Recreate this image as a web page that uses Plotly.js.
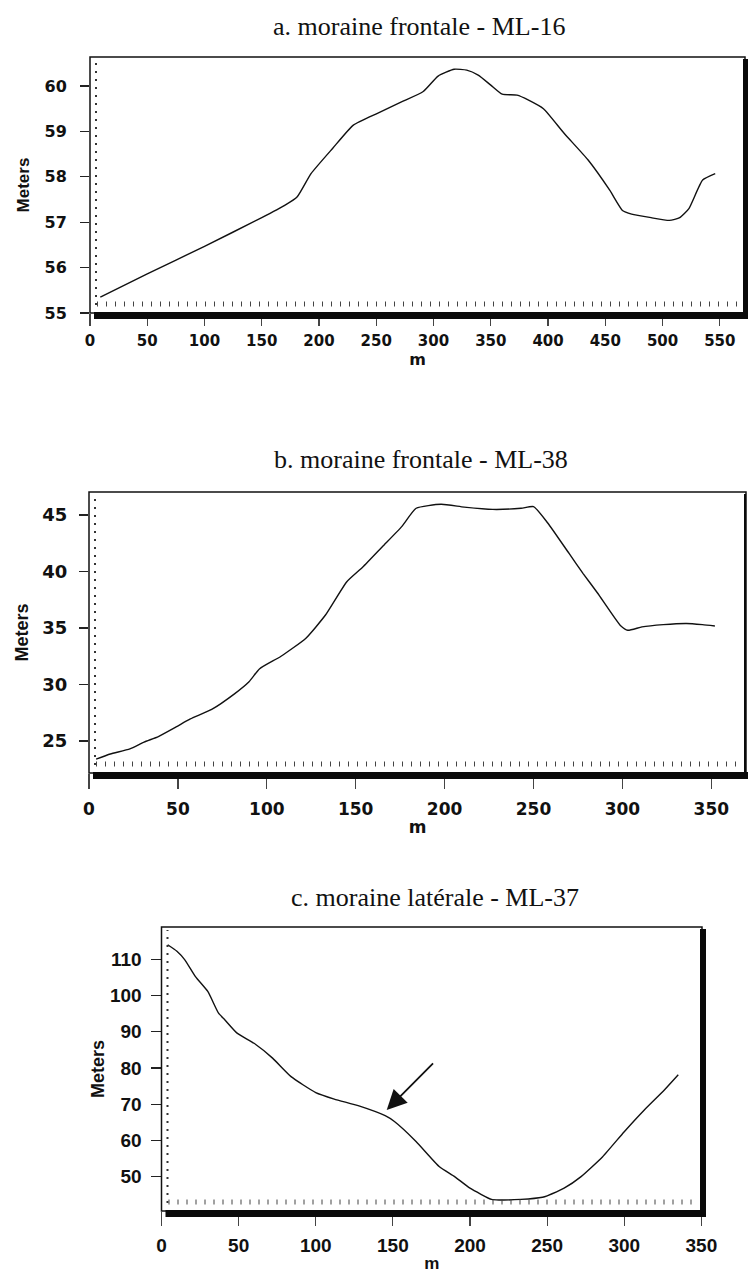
<!DOCTYPE html>
<html>
<head>
<meta charset="utf-8">
<script src="https://cdn.plot.ly/plotly-3.0.1.min.js"></script>
<style>html,body{margin:0;padding:0;background:#fff;}#chart{width:749px;height:1274px;}</style>
</head>
<body>
<div id="chart"></div>
<script>
// ---------- data ----------
const titleA = "a. moraine frontale - ML-16";
const titleB = "b. moraine frontale - ML-38";
const titleC = "c. moraine latérale - ML-37";
const yTitle = "Meters";
const xTitle = "m";

const distA = [9, 50, 100, 150, 170, 181, 193, 212, 230, 251, 272, 291, 304, 318, 329, 339, 350, 360, 373, 383, 396, 414, 435, 454, 465, 473, 490, 506, 515, 523, 535, 546];
const elevA = [55.35, 55.86, 56.47, 57.1, 57.37, 57.56, 58.07, 58.63, 59.14, 59.4, 59.65, 59.88, 60.22, 60.37, 60.35, 60.24, 60.02, 59.82, 59.8, 59.69, 59.5, 58.96, 58.37, 57.7, 57.26, 57.18, 57.1, 57.04, 57.1, 57.3, 57.93, 58.07];

const distB = [4, 12, 23, 31, 39, 49, 57, 69, 82, 90, 96, 108, 122, 133, 145, 154, 165, 176, 184, 198, 211, 227, 243, 250, 258, 270, 278, 286, 299, 303, 311, 323, 336, 345, 352];
const elevB = [23.4, 23.85, 24.3, 24.9, 25.4, 26.25, 26.95, 27.8, 29.2, 30.25, 31.4, 32.5, 34.1, 36.15, 39.1, 40.4, 42.2, 44.0, 45.6, 45.95, 45.7, 45.5, 45.6, 45.75, 44.3, 41.6, 39.8, 38.1, 35.2, 34.8, 35.1, 35.3, 35.4, 35.3, 35.18];

const distC = [4, 10, 15, 22, 30, 37, 41, 49, 60, 72, 84, 100, 112, 128, 145, 151, 165, 180, 190, 200, 214, 219, 233, 247, 250, 261, 272, 286, 300, 313, 326, 335];
const elevC = [114, 112.2, 109.9, 105.2, 101.1, 95.1, 93.3, 89.6, 86.8, 82.7, 77.6, 73.2, 71.4, 69.5, 66.8, 65.2, 59.7, 52.8, 50, 46.8, 43.7, 43.55, 43.7, 44.3, 44.7, 46.8, 50, 55.5, 62.4, 68.4, 73.9, 78.1];

// arrow in panel c: [tail distance, tail elevation, head distance, head elevation]
const arrowC = [177, 81.7, 146, 68.4];

// axis ranges / ticks
const xRangeA = [0, 572], yRangeA = [55, 60.64];
const xRangeB = [0, 369.5], yRangeB = [22.17, 47.04];
const xRangeC = [0, 350.4], yRangeC = [40.5, 118.9];
const xTickStep = 50;
const yTickA = 1, yTickB = 5, yTickC = 10;

// ---------- layout helpers (pixel -> paper) ----------
const W = 749, H = 1274;
const P = x => x / W;
const Q = y => 1 - y / H;

const serif = "Liberation Serif, Times New Roman, serif";
const sansWide = "DejaVu Sans, Verdana, sans-serif";
const sans = "Liberation Sans, Arial, sans-serif";

function frame(box, thickRightW) {
  const [l, t, r, b] = box;
  const s = [];
  s.push({type: 'rect', xref: 'paper', yref: 'paper', x0: P(l), x1: P(r), y0: Q(b), y1: Q(t),
          line: {color: '#111', width: 1.5}, fillcolor: 'rgba(0,0,0,0)'});
  s.push({type: 'rect', xref: 'paper', yref: 'paper', x0: P(l + 4), x1: P(r + 2), y0: Q(b + 6), y1: Q(b - 1),
          line: {width: 0}, fillcolor: '#0a0a0a'});
  s.push({type: 'rect', xref: 'paper', yref: 'paper', x0: P(r - 2), x1: P(r - 2 + thickRightW), y0: Q(b + 6), y1: Q(t + 2),
          line: {width: 0}, fillcolor: '#0a0a0a'});
  s.push({type: 'line', xref: 'paper', yref: 'paper', x0: P(l + 6), x1: P(l + 6), y0: Q(b - 8), y1: Q(t + 3),
          line: {color: '#333', width: 2, dash: '2px,6px'}});
  s.push({type: 'line', xref: 'paper', yref: 'paper', x0: P(l + 7), x1: P(r - 3), y0: Q(b - 9), y1: Q(b - 9),
          line: {color: '#444', width: 5, dash: '1px,8px'}});
  return s;
}

const boxA = [90, 57, 745, 313];
const boxB = [89, 492, 746, 773];
const boxC = [161.5, 927, 702, 1211];

const lineStyle = {color: '#111', width: 1.4, shape: 'spline', smoothing: 0.5};

const traces = [
  {x: distA, y: elevA, type: 'scatter', mode: 'lines', line: lineStyle, xaxis: 'x', yaxis: 'y', showlegend: false},
  {x: distB, y: elevB, type: 'scatter', mode: 'lines', line: lineStyle, xaxis: 'x2', yaxis: 'y2', showlegend: false},
  {x: distC, y: elevC, type: 'scatter', mode: 'lines', line: lineStyle, xaxis: 'x3', yaxis: 'y3', showlegend: false}
];

function xax(box, range, anchor, fs, fam, tlen, stand, titleFs, titleFam, titleStand) {
  return {
    domain: [P(box[0]), P(box[2])], range: range, anchor: anchor,
    tick0: 0, dtick: xTickStep, ticks: 'outside', ticklen: tlen, tickwidth: 1.2, tickcolor: '#444',
    ticklabelstandoff: stand,
    showgrid: false, zeroline: false, showline: false,
    tickfont: {family: fam, size: fs, color: '#111', weight: 'bold'},
    title: {text: xTitle, font: {family: titleFam, size: titleFs, color: '#111', weight: 'bold'}, standoff: titleStand},
    automargin: false, fixedrange: true
  };
}
function yax(box, range, anchor, dt, fs, fam, tlen, stand, titleFs, titleStand) {
  return {
    domain: [Q(box[3]), Q(box[1])], range: range, anchor: anchor,
    dtick: dt, tick0: 0, ticks: 'outside', ticklen: tlen, tickwidth: 1.2, tickcolor: '#222',
    ticklabelstandoff: stand,
    showgrid: false, zeroline: false, showline: false,
    tickfont: {family: fam, size: fs, color: '#111', weight: 'bold'},
    title: {text: yTitle, font: {family: sans, size: titleFs, color: '#111', weight: 'bold'}, standoff: titleStand},
    automargin: false, fixedrange: true
  };
}

const layout = {
  width: W, height: H,
  margin: {l: 0, r: 0, t: 0, b: 0},
  paper_bgcolor: '#fff', plot_bgcolor: '#fff',
  showlegend: false,
  xaxis:  xax(boxA, xRangeA, 'y',  15, sansWide, 12, 2, 16, sansWide, 4),
  yaxis:  yax(boxA, yRangeA, 'x',  yTickA, 16, sansWide, 9, 10, 17, 10),
  xaxis2: xax(boxB, xRangeB, 'y2', 17, sansWide, 15, 6, 17, sansWide, 2),
  yaxis2: yax(boxB, yRangeB, 'x2', yTickB, 18, sansWide, 9, 8, 18, 9),
  xaxis3: xax(boxC, xRangeC, 'y3', 19, sans, 14, 3, 17, sans, 2),
  yaxis3: yax(boxC, yRangeC, 'x3', yTickC, 19, sans, 10, 5, 18, 0),
  shapes: [].concat(frame(boxA, 5), frame(boxB, 2), frame(boxC, 6)),
  annotations: [
    {text: titleA, xref: 'paper', yref: 'paper', x: P(419), y: Q(27), showarrow: false,
     xanchor: 'center', yanchor: 'middle', font: {family: serif, size: 26, color: '#111'}},
    {text: titleB, xref: 'paper', yref: 'paper', x: P(421), y: Q(460), showarrow: false,
     xanchor: 'center', yanchor: 'middle', font: {family: serif, size: 26, color: '#111'}},
    {text: titleC, xref: 'paper', yref: 'paper', x: P(435), y: Q(897), showarrow: false,
     xanchor: 'center', yanchor: 'middle', font: {family: serif, size: 26, color: '#111'}},
    {text: '', xref: 'x3', yref: 'y3', x: arrowC[2], y: arrowC[3], axref: 'x3', ayref: 'y3',
     ax: arrowC[0], ay: arrowC[1], showarrow: true, arrowhead: 2, arrowsize: 2.2, arrowwidth: 1.8, arrowcolor: '#111'}
  ]
};

Plotly.newPlot('chart', traces, layout, {staticPlot: true, displayModeBar: false});
</script>
</body>
</html>
